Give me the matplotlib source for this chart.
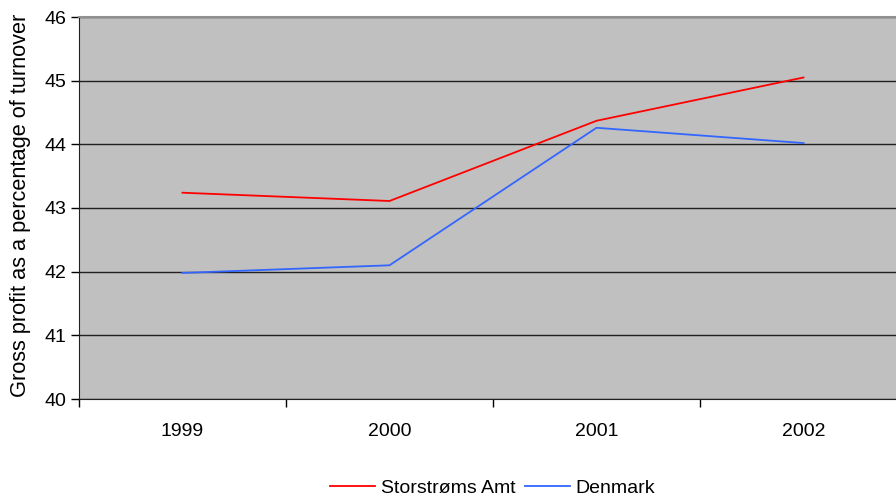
import numpy as np
import matplotlib.pyplot as plt

plt.rcParams['font.family'] = ['Liberation Sans', 'DejaVu Sans']

years = ['1999', '2000', '2001', '2002']
storstroms = [43.24, 43.11, 44.37, 45.05]
denmark = [41.98, 42.10, 44.26, 44.02]

fig = plt.figure(figsize=(8.96, 4.97), dpi=100)
# plot area runs past the right edge of the picture, as in the original
ax = fig.add_axes([79 / 896, 1 - 399 / 497, (907 - 79) / 896, (399 - 17) / 497])
ax.set_facecolor('#C0C0C0')

x = np.arange(len(years))
ax.plot(x, storstroms, color='#FF0000', lw=1.3, label='Storstrøms Amt')
ax.plot(x, denmark, color='#3366FF', lw=1.3, label='Denmark')

ax.set_xlim(-0.5, len(years) - 0.5)
ax.set_ylim(40, 46)
ax.set_yticks(range(40, 47))
ax.yaxis.grid(True, color='#202020', lw=1)
ax.set_axisbelow(True)

ax.set_xticks(x)
ax.set_xticklabels(years, fontsize=14)
ax.tick_params(axis='x', which='major', length=0, pad=17)
ax.set_xticks(np.arange(-0.5, len(years)), minor=True)
ax.tick_params(axis='x', which='minor', length=6, width=1, direction='out')
ax.tick_params(axis='y', labelsize=14, length=6, width=1, pad=3)

for s in ['left', 'bottom']:
    ax.spines[s].set_color('#202020')
ax.spines['top'].set_color('#909090')
ax.spines['top'].set_linewidth(1.5)
ax.spines['right'].set_visible(False)

ax.set_ylabel('Gross profit as a percentage of turnover', fontsize=15.7)
ax.yaxis.set_label_coords(-48 / 828, 0.5 + 3 / 382)

fig.legend(loc='lower center', bbox_to_anchor=(0.55, -0.035), ncol=2, frameon=False,
           fontsize=14, handlelength=2.3, handletextpad=0.3, columnspacing=0.5)

fig.savefig('out.png', dpi=100)
